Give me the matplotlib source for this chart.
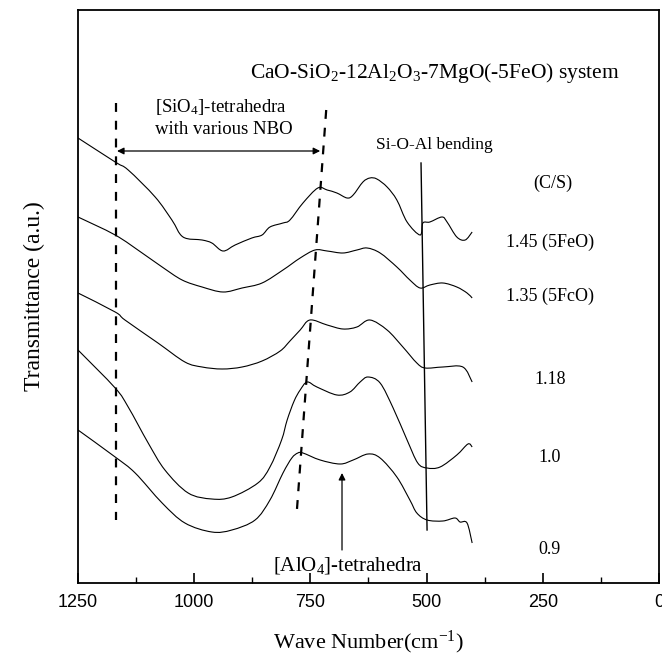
import matplotlib
matplotlib.use("Agg")
import numpy as np
import matplotlib.pyplot as plt
from matplotlib.ticker import MultipleLocator
from matplotlib.path import Path
from matplotlib.patches import PathPatch

plt.rcParams['font.family'] = ['Liberation Serif', 'DejaVu Serif']
plt.rcParams['mathtext.fontset'] = 'custom'
plt.rcParams['mathtext.rm'] = 'Liberation Serif'
plt.rcParams['mathtext.it'] = 'Liberation Serif:italic'
plt.rcParams['mathtext.default'] = 'regular'

# ---- data (wavenumber cm^-1, transmittance a.u. with vertical offsets) ----
wn_145 = [1250, 1170, 1142, 1084, 1048, 1024, 983, 962, 938, 912, 876, 854, 837, 809, 794,
          766, 734, 714, 693, 671, 658, 637, 622, 607, 585, 564, 542, 514, 508, 493, 467,
          456, 435, 417, 402]
t_145 = [445, 421, 413, 386, 363, 346, 343, 340, 332, 338, 345, 348, 356, 360, 363,
         380, 395, 393, 390, 385, 388, 401, 405, 404, 396, 383, 361, 348, 360, 361, 366,
         361, 346, 343, 351]

wn_135 = [1250, 1170, 1112, 1069, 1026, 983, 938, 897, 854, 809, 772, 740, 714, 680, 650,
          628, 600, 564, 536, 514, 493, 465, 435, 413, 402]
t_135 = [366, 348, 330, 316, 303, 296, 291, 295, 300, 313, 325, 333, 332, 330, 333,
         335, 330, 316, 303, 295, 298, 300, 296, 290, 285]

wn_118 = [1250, 1170, 1149, 1078, 1020, 983, 940, 897, 854, 815, 794, 772, 751, 714,
          680, 650, 622, 585, 551, 521, 503, 465, 422, 402]
t_118 = [290, 271, 263, 240, 221, 216, 214, 216, 222, 232, 242, 253, 263, 258,
         254, 256, 263, 253, 236, 220, 215, 216, 216, 201]

wn_100 = [1250, 1170, 1142, 1099, 1063, 1013, 962, 919, 863, 837, 812, 800, 785, 772, 757, 736,
          693, 665, 643, 626, 600, 572, 542, 519, 499, 471, 435, 411, 402]
t_100 = [233, 195, 176, 140, 113, 90, 84, 86, 100, 116, 143, 163, 182, 193, 201, 196,
         188, 191, 201, 206, 200, 175, 143, 120, 115, 116, 128, 139, 136]

wn_090 = [1250, 1170, 1127, 1069, 1020, 962, 919, 869, 837, 809, 790, 777, 766, 729, 686, 658,
          626, 600, 564, 536, 521, 499, 465, 439, 428, 413, 402]
t_090 = [153, 126, 110, 80, 60, 51, 53, 63, 83, 110, 125, 130, 130, 123, 119, 123,
         129, 125, 106, 83, 70, 63, 62, 65, 61, 60, 40]

series = [(wn_145, t_145), (wn_135, t_135), (wn_118, t_118), (wn_100, t_100), (wn_090, t_090)]
cs_labels = ['1.45 (5FeO)', '1.35 (5FcO)', '1.18', '1.0', '0.9']
cs_label_y = [341, 287, 203, 125, 33]

x_ticks = [1250, 1000, 750, 500, 250, 0]


def smooth_path(x, y):
    """Catmull-Rom curve through the read points, drawn as cubic Bezier segments."""
    p = np.column_stack([x, y]).astype(float)
    n = len(p)
    verts = [p[0]]
    codes = [Path.MOVETO]
    for i in range(n - 1):
        p0 = p[max(i - 1, 0)]
        p1 = p[i]
        p2 = p[i + 1]
        p3 = p[min(i + 2, n - 1)]
        c1 = p1 + (p2 - p0) / 6.0
        c2 = p2 - (p3 - p1) / 6.0
        verts += [c1, c2, p2]
        codes += [Path.CURVE4] * 3
    return Path(verts, codes)


# ---- figure ----
fig = plt.figure(figsize=(6.62, 6.59), dpi=100)
ax = fig.add_axes([78/662, 1-583/659, 581/662, 573/659])

ax.set_xlim(1250, 0)
ax.set_ylim(0, 573)

for wn, t in series:
    ax.add_patch(PathPatch(smooth_path(wn, t), facecolor='none', edgecolor='black', lw=0.8))

ax.set_xticks(x_ticks)
ax.xaxis.set_minor_locator(MultipleLocator(125))
ax.set_yticks([])
ax.tick_params(axis='x', which='major', direction='in', length=7, width=1.2,
               labelsize=13, pad=8)
ax.tick_params(axis='x', which='minor', direction='in', length=4, width=1.0)
for lab in ax.get_xticklabels():
    lab.set_family(['Liberation Sans', 'DejaVu Sans'])
for sp in ax.spines.values():
    sp.set_linewidth(1.3)

ax.set_xlabel(r'Wave Number(cm$^{-1}$)', fontsize=16, labelpad=13)
ax.set_ylabel('Transmittance (a.u.)', fontsize=17, labelpad=24)

# ---- annotations ----
ax.text(482, 510, r'CaO-SiO$_2$-12Al$_2$O$_3$-7MgO(-5FeO) system', fontsize=15.5,
        ha='center', va='center')

ax.plot([1168, 1168], [480, 63], color='black', lw=1.6, ls=(0, (4, 4)))
ax.plot([716, 779], [473, 73], color='black', lw=1.6, ls=(0, (4, 4)))
ax.annotate('', xy=(1166, 432), xytext=(729, 432),
            arrowprops=dict(arrowstyle='<|-|>', color='black', lw=0.9,
                            mutation_scale=10, shrinkA=0, shrinkB=0))
ax.text(1084, 476, r'[SiO$_4$]-tetrahedra', fontsize=13.5, ha='left', va='center')
ax.text(1084, 453, 'with various NBO', fontsize=13.5, ha='left', va='center')

ax.plot([512, 499], [420, 53], color='black', lw=1.0)
ax.text(609, 438, 'Si-O-Al bending', fontsize=12.5, ha='left', va='center')

ax.text(228, 400, '(C/S)', fontsize=13, ha='center', va='center')
for lab, ty in zip(cs_labels, cs_label_y):
    ax.text(235, ty, lab, fontsize=13, ha='center', va='center')

ax.annotate('', xy=(682, 110), xytext=(682, 33),
            arrowprops=dict(arrowstyle='-|>', color='black', lw=0.9,
                            mutation_scale=10, shrinkA=0, shrinkB=0))
ax.text(670, 17, r'[AlO$_4$]-tetrahedra', fontsize=15, ha='center', va='center')

fig.savefig('out.png', dpi=100)
